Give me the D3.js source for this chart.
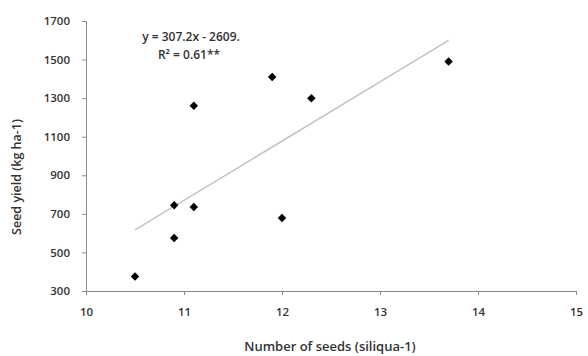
<!DOCTYPE html>
<html><head><meta charset="utf-8">
<script src="https://cdn.jsdelivr.net/npm/d3@7"></script>
<style>body{margin:0;background:#fff}text{font-family:"Open Sans",Lato,sans-serif;font-weight:600}</style>
</head><body>
<svg id="c" width="588" height="356"></svg>
<script>
const seeds = [10.5, 10.9, 10.9, 11.1, 11.1, 11.9, 12.0, 12.3, 13.7];
const yieldKg = [375, 575, 745, 735, 1260, 1410, 678, 1300, 1490];
const xTicks = [10, 11, 12, 13, 14, 15];
const yTicks = [300, 500, 700, 900, 1100, 1300, 1500, 1700];
const slope = 307.2, intercept = -2609;
const equationText = "y = 307.2x - 2609.";
const r2Text = "R² = 0.61**";
const xTitle = "Number of seeds (siliqua-1)";
const yTitle = "Seed yield (kg ha-1)";

const svg = d3.select("#c");
const x = d3.scaleLinear().domain([10, 15]).range([86, 576]);
const y = d3.scaleLinear().domain([300, 1700]).range([291, 21]);
const axisColor = "#8a8a8a";

const gx = svg.append("g").attr("transform", `translate(0,${y(300)})`)
  .call(d3.axisBottom(x).tickValues(xTicks).tickSize(4).tickPadding(13).tickFormat(d3.format("d")));
const gy = svg.append("g").attr("transform", `translate(${x(10)},0)`)
  .call(d3.axisLeft(y).tickValues(yTicks).tickSize(4).tickPadding(12).tickFormat(d3.format("d")));
[gx, gy].forEach(g => {
  g.selectAll("path,line").attr("stroke", axisColor);
  g.selectAll("text").attr("fill", "#333").style("font-size", "11.5px");
});

const lx = d3.extent(seeds);
svg.append("line")
  .attr("x1", x(lx[0])).attr("y1", y(slope * lx[0] + intercept))
  .attr("x2", x(lx[1])).attr("y2", y(slope * lx[1] + intercept))
  .attr("stroke", "#c4c4c4").attr("stroke-width", 1.5);

svg.append("g").selectAll("path").data(seeds).join("path")
  .attr("d", d3.symbol(d3.symbolDiamond2, 46))
  .attr("transform", (d, i) => `translate(${x(d)},${y(yieldKg[i])})`)
  .attr("fill", "#000");

svg.append("text").attr("x", 191).attr("y", 41).attr("text-anchor", "middle")
  .style("font-size", "12px").attr("fill", "#333").text(equationText);
svg.append("text").attr("x", 189).attr("y", 59).attr("text-anchor", "middle")
  .style("font-size", "12px").attr("fill", "#333").text(r2Text);

svg.append("text").attr("x", 330).attr("y", 351).attr("text-anchor", "middle")
  .style("font-size", "13px").attr("fill", "#333").text(xTitle);
svg.append("text").attr("transform", "translate(21,177) rotate(-90)").attr("text-anchor", "middle")
  .style("font-size", "12.5px").attr("fill", "#333").text(yTitle);
</script>
</body></html>
